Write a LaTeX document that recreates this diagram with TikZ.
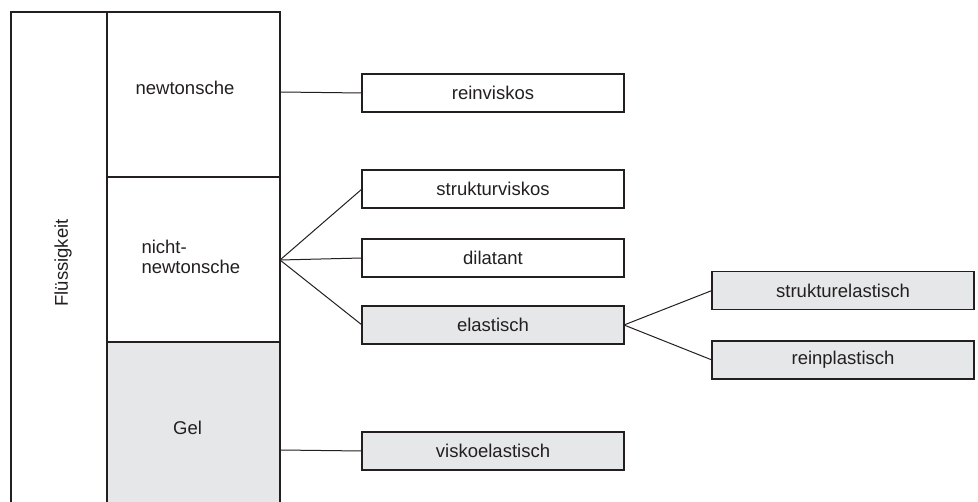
\documentclass[tikz,border=0pt]{standalone}
\usepackage{fontspec}
\setmainfont{Liberation Sans}
\definecolor{gelgray}{HTML}{E6E7E8}
\definecolor{ink}{HTML}{231F20}
\begin{document}
\begin{tikzpicture}[x=1pt,y=-1pt,line width=1.1pt,
  cell/.style={draw=ink,rectangle,inner sep=0pt,outer sep=0pt,anchor=north west},
  box/.style={draw=ink,rectangle,minimum width=262pt,minimum height=38pt,inner sep=0pt,outer sep=0pt,font=\fontsize{18.5}{22}\selectfont,text=ink},
  gbox/.style={box,fill=gelgray},
  lab/.style={font=\fontsize{18.5}{22}\selectfont,inner sep=0pt,text=ink},
  conn/.style={draw=ink,line width=1pt}]
\useasboundingbox (0,0) rectangle (978,502);
\clip (0,0) rectangle (978,502);
% left column
\node[cell,minimum width=96pt,minimum height=500pt] (flu) at (11,12) {};
\node[cell,minimum width=173pt,minimum height=165pt] (newt) at (107,12) {};
\node[cell,minimum width=173pt,minimum height=165pt] (nicht) at (107,177) {};
\node[cell,minimum width=173pt,minimum height=200pt,fill=gelgray] (gel) at (107,342) {};
% labels
\node[lab,rotate=90] (flutxt) at (63,263) {Flüssigkeit};
\node[lab] (newttxt) at (185,88) {newtonsche};
\node[lab,anchor=west,align=left] (nichttxt) at (141,257) {nicht-\\[-1.5pt]newtonsche};
\node[lab] (geltxt) at (187.5,428) {Gel};
% boxes
\node[box] (rein) at (493,93) {reinviskos};
\node[box] (struk) at (493,189) {strukturviskos};
\node[box] (dil) at (493,258) {dilatant};
\node[gbox] (ela) at (493,325) {elastisch};
\node[gbox] (visko) at (493,451) {viskoelastisch};
\node[gbox] (strel) at (843,290.5) {strukturelastisch};
\node[gbox] (reinpl) at (843,360) {reinplastisch};
% connector origins
\coordinate (c1) at (280,92);
\coordinate (c2) at (280,260);
\coordinate (c3) at (280,450);
\draw[conn] (c1) -- (rein.west);
\draw[conn] (c2) -- (struk.west);
\draw[conn] (c2) -- (dil.west);
\draw[conn] (c2) -- (ela.west);
\draw[conn] (c3) -- (visko.west);
\draw[conn] (ela.east) -- (strel.west);
\draw[conn] (ela.east) -- (reinpl.west);
\end{tikzpicture}
\end{document}
